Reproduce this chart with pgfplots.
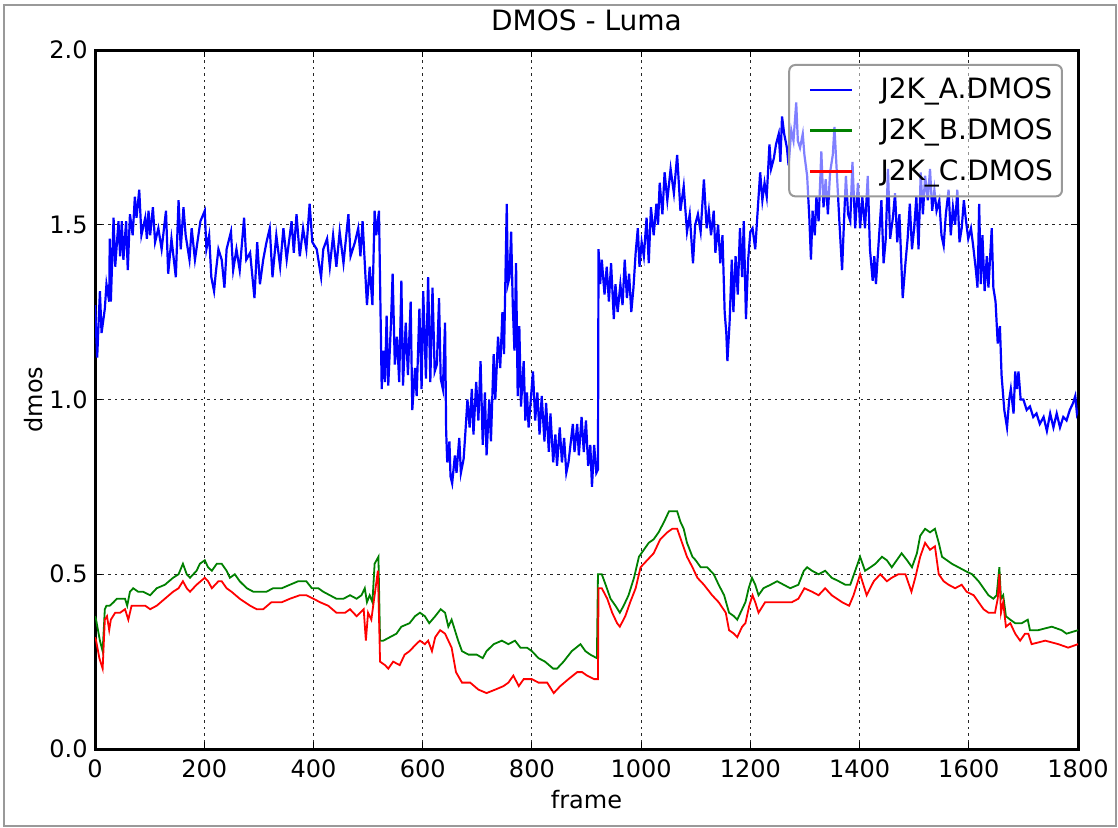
\documentclass[border=0pt]{standalone}
\usepackage{fontspec}
\setmainfont{DejaVu Sans}
\usepackage{pgfplots}
\pgfplotsset{compat=1.18}
\definecolor{mplgreen}{RGB}{0,128,0}
\begin{document}
\begin{tikzpicture}
\useasboundingbox (0,0) rectangle (559pt,413.5pt);
\draw[gray!80, line width=1pt] (2pt,0.5pt) rectangle (558pt,411pt);
\begin{axis}[
    at={(47.5pt,39pt)}, anchor=south west,
    scale only axis, width=491.5pt, height=349.5pt,
    xmin=0, xmax=1800, ymin=0, ymax=2,
    xtick={0,200,...,1800}, ytick={0,0.5,1,1.5,2},
    scaled x ticks=false,
    axis line style={line width=1.5pt},
    tick align=inside, major tick length=3.5pt,
    tick style={black, line width=0.5pt},
    xtick pos=both, ytick pos=both, xticklabel pos=lower, yticklabel pos=left,
    grid=major,
    grid style={black!85, line width=0.5pt, dash pattern=on 1.3pt off 2pt},
    /pgf/number format/assume math mode=true,
    tick label style={font=\fontsize{12}{14}\selectfont},
    xticklabel style={anchor=base, yshift=-14pt, /pgf/number format/set thousands separator={}},
    yticklabel style={anchor=east, inner sep=0pt, xshift=-3.5pt,
        /pgf/number format/.cd, fixed, fixed zerofill, precision=1},
    title={DMOS - Luma},
    title style={at={(axis description cs:0.5,1)}, anchor=base, yshift=4pt, font=\fontsize{14}{16}\selectfont},
    xlabel={frame},
    xlabel style={at={(axis description cs:0.5,0)}, anchor=base, yshift=-29.5pt, font=\fontsize{12}{14}\selectfont},
    ylabel={dmos},
    ylabel style={at={(axis description cs:-0.0529,0.5)}, anchor=base, font=\fontsize{12}{14}\selectfont},
    legend style={at={(axis description cs:0.9847,0.98)}, anchor=north east,
        draw=gray!80, line width=1pt, rounded corners=3pt,
        fill=white, fill opacity=0.5, draw opacity=1, text opacity=1,
        font=\fontsize{14}{16}\selectfont,
        inner xsep=3.5pt, inner ysep=5.5pt, row sep=6.5pt, column sep=12.5pt,
        nodes={inner sep=1pt}},
    legend cell align=left,
    legend image code/.code={\path[draw=none] (-7pt,0pt) -- (0pt,0pt);
        \draw[#1, line width=1.3pt, draw opacity=1] (0pt,0pt) -- (21pt,0pt);},
]
% J2K_A
\addplot[blue, line width=1.1pt] coordinates {
(0,1.27) (4,1.12) (9,1.31) (12,1.19) (18,1.26) (21,1.33) (26,1.28) (27,1.46) (29,1.28) (34,1.52)
(37,1.38) (43,1.51) (46,1.41) (49,1.51) (52,1.40) (57,1.51) (60,1.37) (64,1.53) (69,1.47) (73,1.58)
(76,1.52) (81,1.60) (85,1.47) (92,1.52) (95,1.46) (98,1.54) (101,1.47) (106,1.55) (110,1.45) (116,1.49)
(122,1.43) (130,1.54) (134,1.36) (140,1.46) (148,1.35) (153,1.57) (157,1.43) (162,1.55) (166,1.47) (173,1.40)
(177,1.49) (183,1.40) (193,1.51) (201,1.54) (204,1.43) (209,1.47) (213,1.35) (218,1.31) (221,1.36) (226,1.43)
(232,1.40) (237,1.32) (241,1.43) (249,1.48) (253,1.37) (259,1.43) (265,1.37) (273,1.52) (277,1.40) (284,1.42)
(292,1.29) (297,1.45) (302,1.33) (308,1.40) (314,1.45) (320,1.49) (325,1.35) (332,1.47) (339,1.38) (345,1.49)
(351,1.40) (360,1.51) (364,1.42) (369,1.53) (375,1.41) (381,1.49) (387,1.43) (393,1.56) (398,1.45) (406,1.43)
(414,1.35) (418,1.43) (425,1.46) (430,1.38) (436,1.47) (442,1.38) (448,1.48) (455,1.39) (464,1.53) (468,1.41)
(476,1.45) (482,1.49) (486,1.41) (490,1.51) (494,1.39) (498,1.27) (503,1.38) (508,1.27) (512,1.54) (515,1.47)
(520,1.54) (525,1.03) (528,1.14) (531,1.05) (534,1.24) (537,1.04) (542,1.22) (545,1.36) (549,1.10) (553,1.18)
(557,1.05) (561,1.34) (564,1.04) (569,1.22) (573,1.07) (578,1.28) (581,0.97) (586,1.09) (589,1.01) (594,1.26)
(598,1.03) (601,1.31) (606,1.06) (610,1.35) (614,1.05) (618,1.32) (622,1.08) (626,1.10) (630,1.29) (633,1.06)
(637,1.03) (641,1.22) (643,0.91) (645,0.82) (649,0.88) (651,0.78) (654,0.76) (659,0.84) (662,0.79) (667,0.89)
(670,0.79) (675,0.83) (678,0.90) (682,1.00) (686,0.92) (690,1.03) (693,0.90) (698,1.05) (702,0.94) (706,1.11)
(710,0.87) (714,1.02) (717,0.84) (722,1.00) (725,0.88) (730,1.13) (733,1.00) (738,1.18) (742,1.09) (746,1.25)
(749,1.13) (754,1.56) (756,1.33) (759,1.35) (762,1.48) (765,1.27) (768,1.14) (771,1.39) (774,1.01) (777,1.21)
(780,0.98) (785,1.11) (788,0.94) (791,1.02) (794,0.92) (802,1.08) (806,0.94) (810,1.02) (814,0.90) (818,1.01)
(823,0.88) (826,0.99) (831,0.85) (834,0.96) (839,0.82) (843,0.90) (846,0.81) (851,0.92) (855,0.82) (859,0.89)
(863,0.79) (867,0.82) (875,0.93) (878,0.85) (883,0.93) (886,0.84) (891,0.95) (895,0.85) (899,0.94) (903,0.81)
(907,0.87) (910,0.75) (914,0.87) (918,0.79) (921,0.80) (922,1.43) (925,1.33) (928,1.40) (933,1.30) (937,1.38)
(941,1.28) (945,1.39) (950,1.23) (953,1.33) (957,1.25) (962,1.33) (966,1.27) (970,1.40) (974,1.29) (978,1.36)
(982,1.25) (986,1.32) (990,1.42) (994,1.49) (997,1.38) (1001,1.45) (1005,1.41) (1010,1.52) (1014,1.39) (1018,1.55)
(1023,1.47) (1028,1.56) (1031,1.50) (1034,1.62) (1039,1.53) (1043,1.65) (1048,1.57) (1054,1.66) (1060,1.59) (1066,1.70)
(1072,1.54) (1078,1.61) (1084,1.48) (1089,1.53) (1095,1.39) (1099,1.50) (1104,1.53) (1109,1.48) (1115,1.63) (1120,1.49)
(1124,1.54) (1128,1.47) (1133,1.54) (1136,1.42) (1141,1.50) (1145,1.39) (1149,1.47) (1153,1.25) (1156,1.19) (1158,1.11)
(1162,1.22) (1166,1.40) (1169,1.25) (1173,1.41) (1177,1.30) (1181,1.49) (1185,1.35) (1188,1.51) (1192,1.23) (1196,1.40)
(1200,1.48) (1204,1.49) (1209,1.43) (1213,1.53) (1218,1.65) (1222,1.57) (1226,1.62) (1230,1.58) (1235,1.73) (1238,1.66)
(1243,1.69) (1247,1.73) (1252,1.76) (1255,1.68) (1258,1.81) (1262,1.76) (1267,1.72) (1270,1.67) (1275,1.77) (1279,1.74)
(1284,1.85) (1287,1.74) (1291,1.72) (1296,1.76) (1299,1.70) (1304,1.64) (1308,1.52) (1311,1.40) (1314,1.54) (1318,1.47)
(1321,1.58) (1325,1.51) (1330,1.71) (1334,1.55) (1338,1.63) (1342,1.53) (1346,1.65) (1351,1.70) (1354,1.78) (1359,1.63)
(1363,1.51) (1368,1.37) (1371,1.49) (1375,1.64) (1379,1.53) (1383,1.51) (1387,1.68) (1392,1.49) (1397,1.62) (1401,1.49)
(1405,1.58) (1410,1.49) (1415,1.64) (1419,1.43) (1424,1.34) (1427,1.41) (1430,1.33) (1435,1.45) (1440,1.57) (1444,1.39)
(1448,1.46) (1452,1.66) (1456,1.46) (1461,1.52) (1465,1.59) (1469,1.45) (1473,1.53) (1476,1.41) (1479,1.29) (1484,1.39)
(1488,1.46) (1492,1.56) (1496,1.43) (1500,1.49) (1504,1.58) (1508,1.43) (1512,1.65) (1516,1.53) (1520,1.64) (1525,1.57)
(1529,1.66) (1533,1.54) (1537,1.60) (1541,1.54) (1546,1.57) (1550,1.47) (1554,1.44) (1558,1.53) (1563,1.60) (1567,1.47)
(1571,1.55) (1575,1.50) (1579,1.60) (1583,1.45) (1587,1.49) (1591,1.57) (1595,1.51) (1599,1.46) (1604,1.49) (1608,1.44)
(1613,1.37) (1616,1.32) (1619,1.56) (1622,1.33) (1625,1.47) (1629,1.31) (1633,1.41) (1636,1.32) (1642,1.49) (1645,1.32)
(1649,1.28) (1653,1.16) (1657,1.21) (1660,1.07) (1665,0.97) (1670,0.92) (1674,1.00) (1677,1.03) (1682,0.96) (1685,1.08)
(1688,1.03) (1691,1.08) (1695,1.00) (1700,1.00) (1706,0.97) (1712,0.98) (1718,0.95) (1724,0.96) (1730,0.93) (1737,0.95)
(1743,0.91) (1749,0.96) (1755,0.92) (1761,0.96) (1767,0.92) (1773,0.95) (1779,0.94) (1785,0.97) (1791,0.99) (1795,1.01)
(1798,0.96) (1800,0.97)
};
\addlegendentry{J2K\_A.DMOS}
% J2K_B
\addplot[mplgreen, line width=0.9pt] coordinates {
(0,0.38) (2,0.37) (9,0.31) (14,0.28) (18,0.40) (21,0.41) (27,0.41) (34,0.42) (40,0.43) (49,0.43)
(55,0.43) (59,0.41) (64,0.45) (70,0.46) (79,0.45) (88,0.45) (101,0.44) (113,0.46) (128,0.47) (143,0.49)
(153,0.50) (161,0.53) (168,0.50) (174,0.49) (186,0.51) (192,0.53) (201,0.54) (207,0.52) (214,0.51) (223,0.53)
(232,0.53) (241,0.51) (247,0.49) (256,0.50) (265,0.48) (278,0.46) (290,0.45) (302,0.45) (314,0.45) (326,0.46)
(342,0.46) (357,0.47) (372,0.48) (387,0.48) (397,0.46) (409,0.46) (418,0.45) (430,0.44) (442,0.43) (455,0.43)
(467,0.44) (479,0.43) (488,0.44) (494,0.46) (498,0.42) (503,0.44) (508,0.42) (512,0.53) (519,0.55) (522,0.31)
(528,0.31) (540,0.32) (552,0.33) (561,0.35) (576,0.36) (586,0.38) (595,0.39) (604,0.38) (612,0.36) (623,0.38)
(633,0.40) (641,0.39) (647,0.35) (653,0.37) (659,0.34) (665,0.31) (672,0.28) (684,0.27) (699,0.27) (710,0.26)
(717,0.28) (730,0.30) (745,0.31) (757,0.30) (769,0.31) (779,0.29) (791,0.29) (800,0.28) (812,0.26) (824,0.25)
(839,0.23) (846,0.23) (858,0.25) (873,0.28) (889,0.30) (898,0.28) (907,0.27) (919,0.26) (921,0.50) (928,0.50)
(935,0.47) (944,0.43) (953,0.41) (961,0.39) (968,0.41) (977,0.44) (987,0.49) (996,0.55) (1005,0.57) (1014,0.59)
(1023,0.60) (1032,0.62) (1042,0.65) (1051,0.68) (1060,0.68) (1066,0.68) (1072,0.65) (1078,0.63) (1084,0.59) (1094,0.55)
(1100,0.54) (1109,0.52) (1121,0.52) (1133,0.50) (1142,0.47) (1152,0.44) (1161,0.39) (1170,0.38) (1176,0.37) (1182,0.39)
(1191,0.42) (1197,0.46) (1203,0.49) (1209,0.47) (1215,0.44) (1224,0.46) (1237,0.47) (1249,0.48) (1261,0.47) (1273,0.46)
(1288,0.47) (1298,0.51) (1304,0.52) (1313,0.51) (1325,0.50) (1337,0.51) (1349,0.49) (1362,0.48) (1374,0.47) (1383,0.47)
(1392,0.51) (1401,0.55) (1410,0.51) (1420,0.52) (1429,0.53) (1441,0.55) (1450,0.54) (1459,0.52) (1468,0.54) (1477,0.56)
(1487,0.54) (1496,0.52) (1505,0.56) (1511,0.61) (1520,0.63) (1529,0.62) (1538,0.63) (1545,0.59) (1551,0.55) (1560,0.54)
(1569,0.53) (1581,0.52) (1593,0.51) (1606,0.50) (1618,0.48) (1627,0.46) (1636,0.44) (1645,0.43) (1651,0.44) (1656,0.52)
(1659,0.43) (1663,0.44) (1668,0.38) (1676,0.37) (1685,0.36) (1697,0.36) (1708,0.37) (1712,0.34) (1727,0.34) (1752,0.35)
(1770,0.34) (1779,0.33) (1800,0.34)
};
\addlegendentry{J2K\_B.DMOS}
% J2K_C
\addplot[red, line width=0.9pt] coordinates {
(0,0.32) (2,0.31) (8,0.26) (14,0.23) (18,0.37) (22,0.38) (26,0.34) (29,0.37) (37,0.39) (46,0.39)
(55,0.40) (61,0.37) (67,0.41) (79,0.41) (92,0.41) (101,0.40) (113,0.41) (128,0.43) (143,0.45) (153,0.46)
(161,0.48) (168,0.46) (174,0.45) (186,0.47) (201,0.49) (207,0.48) (214,0.46) (226,0.48) (232,0.48) (241,0.46)
(250,0.45) (265,0.43) (284,0.41) (296,0.40) (308,0.40) (323,0.42) (342,0.42) (357,0.43) (375,0.44) (387,0.44)
(400,0.43) (412,0.42) (427,0.41) (442,0.39) (458,0.39) (467,0.40) (479,0.38) (492,0.40) (496,0.31) (500,0.39)
(506,0.37) (512,0.44) (518,0.51) (522,0.25) (531,0.24) (537,0.23) (546,0.25) (558,0.24) (567,0.27) (576,0.28)
(588,0.30) (595,0.31) (604,0.30) (610,0.31) (617,0.28) (623,0.32) (632,0.34) (641,0.33) (647,0.31) (653,0.29)
(661,0.22) (672,0.19) (687,0.19) (702,0.17) (717,0.16) (733,0.17) (748,0.18) (757,0.19) (766,0.21) (776,0.18)
(785,0.20) (800,0.20) (812,0.19) (828,0.19) (840,0.16) (852,0.18) (867,0.20) (883,0.22) (892,0.22) (901,0.21)
(914,0.20) (921,0.20) (922,0.46) (928,0.46) (938,0.43) (947,0.39) (956,0.36) (961,0.35) (971,0.38) (980,0.42)
(990,0.46) (999,0.52) (1011,0.54) (1023,0.56) (1035,0.60) (1048,0.62) (1057,0.63) (1066,0.63) (1075,0.59) (1084,0.55)
(1094,0.52) (1103,0.49) (1115,0.47) (1130,0.44) (1142,0.42) (1155,0.39) (1161,0.34) (1170,0.33) (1176,0.32) (1185,0.35)
(1191,0.36) (1198,0.41) (1204,0.44) (1209,0.42) (1215,0.39) (1227,0.42) (1246,0.42) (1264,0.42) (1276,0.42) (1288,0.43)
(1299,0.46) (1313,0.45) (1325,0.44) (1337,0.46) (1349,0.44) (1368,0.42) (1381,0.41) (1389,0.44) (1401,0.50) (1413,0.44)
(1426,0.48) (1438,0.50) (1450,0.48) (1459,0.49) (1471,0.50) (1484,0.50) (1495,0.45) (1502,0.49) (1511,0.55) (1520,0.59)
(1529,0.57) (1538,0.58) (1545,0.50) (1554,0.48) (1563,0.47) (1575,0.46) (1587,0.47) (1596,0.45) (1609,0.44) (1618,0.42)
(1627,0.40) (1636,0.39) (1648,0.39) (1653,0.43) (1656,0.50) (1659,0.39) (1663,0.42) (1668,0.35) (1676,0.36) (1685,0.33)
(1694,0.31) (1703,0.33) (1709,0.33) (1715,0.30) (1740,0.31) (1764,0.30) (1782,0.29) (1800,0.30)
};
\addlegendentry{J2K\_C.DMOS}
\end{axis}
\end{tikzpicture}
\end{document}
